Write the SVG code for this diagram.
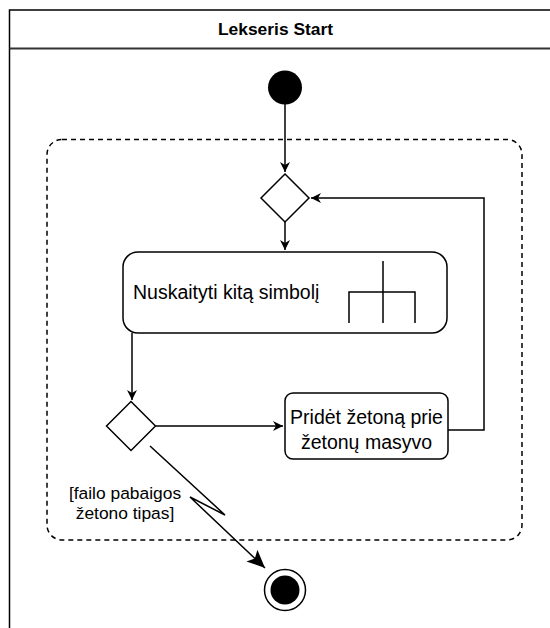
<svg xmlns="http://www.w3.org/2000/svg" width="550" height="628" viewBox="0 0 550 628">
<style>
.t{font-family:"Liberation Sans",Arial,sans-serif;fill:#000}
.ln{fill:none;stroke:#000;stroke-width:1.5}
.box{fill:#fff;stroke:#000;stroke-width:1.5}
</style>
<defs>
<marker id="a" markerUnits="userSpaceOnUse" markerWidth="12" markerHeight="12" refX="10" refY="5" orient="auto" viewBox="0 0 12 12">
<path d="M0,0 L10,5 L0,10 L3,5 z" fill="#000"/>
</marker>
<marker id="b" markerUnits="userSpaceOnUse" markerWidth="20" markerHeight="20" refX="18" refY="8" orient="auto" viewBox="0 0 20 20">
<path d="M0,0 L18,8 L0,16 L4,8 z" fill="#000"/>
</marker>
</defs>
<rect width="550" height="628" fill="#fff"/>
<g id="frame">
<path class="ln" d="M560,10 H9.5 V640"/>
<line x1="9.5" y1="48.5" x2="560" y2="48.5" stroke="#333" stroke-width="2"/>
<text class="t" x="275.5" y="35" font-size="17.4" font-weight="bold" text-anchor="middle">Lekseris Start</text>
</g>
<g id="region">
<rect x="47" y="139.5" width="475" height="400.5" rx="15" fill="none" stroke="#000" stroke-width="1.5" stroke-dasharray="5 4"/>
</g>
<g id="connectors">
<path class="ln" d="M285,104 V172" marker-end="url(#a)"/>
<path class="ln" d="M285,222 V250" marker-end="url(#a)"/>
<path class="ln" d="M132,333 V400" marker-end="url(#a)"/>
<path class="ln" d="M156,426 H283" marker-end="url(#a)"/>
<path class="ln" d="M448,430 H484 V198 H311" marker-end="url(#a)"/>
<path class="ln" d="M150,446 L225,515 L190,497 L265,568" marker-end="url(#b)"/>
</g>
<g id="start">
<circle cx="285" cy="87.5" r="17" fill="#000"/>
</g>
<g id="merge">
<path class="box" d="M285,174 L309,198 L285,222 L261,198 z"/>
</g>
<g id="read">
<rect class="box" x="123" y="252" width="324" height="81" rx="15"/>
<text class="t" x="133" y="299" font-size="19.5">Nuskaityti kitą simbolį</text>
<path class="ln" d="M383,261 V323 M349,323 V292 H415 V323"/>
</g>
<g id="decision">
<path class="box" d="M131,401.5 L155.5,426 L131,450.5 L106.5,426 z"/>
</g>
<g id="add">
<rect class="box" x="285" y="393" width="163" height="66" rx="8"/>
<text class="t" x="366.5" y="424" font-size="19.5" text-anchor="middle">Pridėt žetoną prie</text>
<text class="t" x="366.5" y="449" font-size="19.5" text-anchor="middle">žetonų masyvo</text>
</g>
<g id="guard">
<text class="t" x="125" y="499" font-size="17.4" text-anchor="middle">[failo pabaigos</text>
<text class="t" x="125" y="519" font-size="17.4" text-anchor="middle">žetono tipas]</text>
</g>
<g id="end">
<circle cx="285" cy="590" r="20.5" fill="#fff" stroke="#000" stroke-width="1.5"/>
<circle cx="285" cy="590" r="14.5" fill="#000"/>
</g>
</svg>
